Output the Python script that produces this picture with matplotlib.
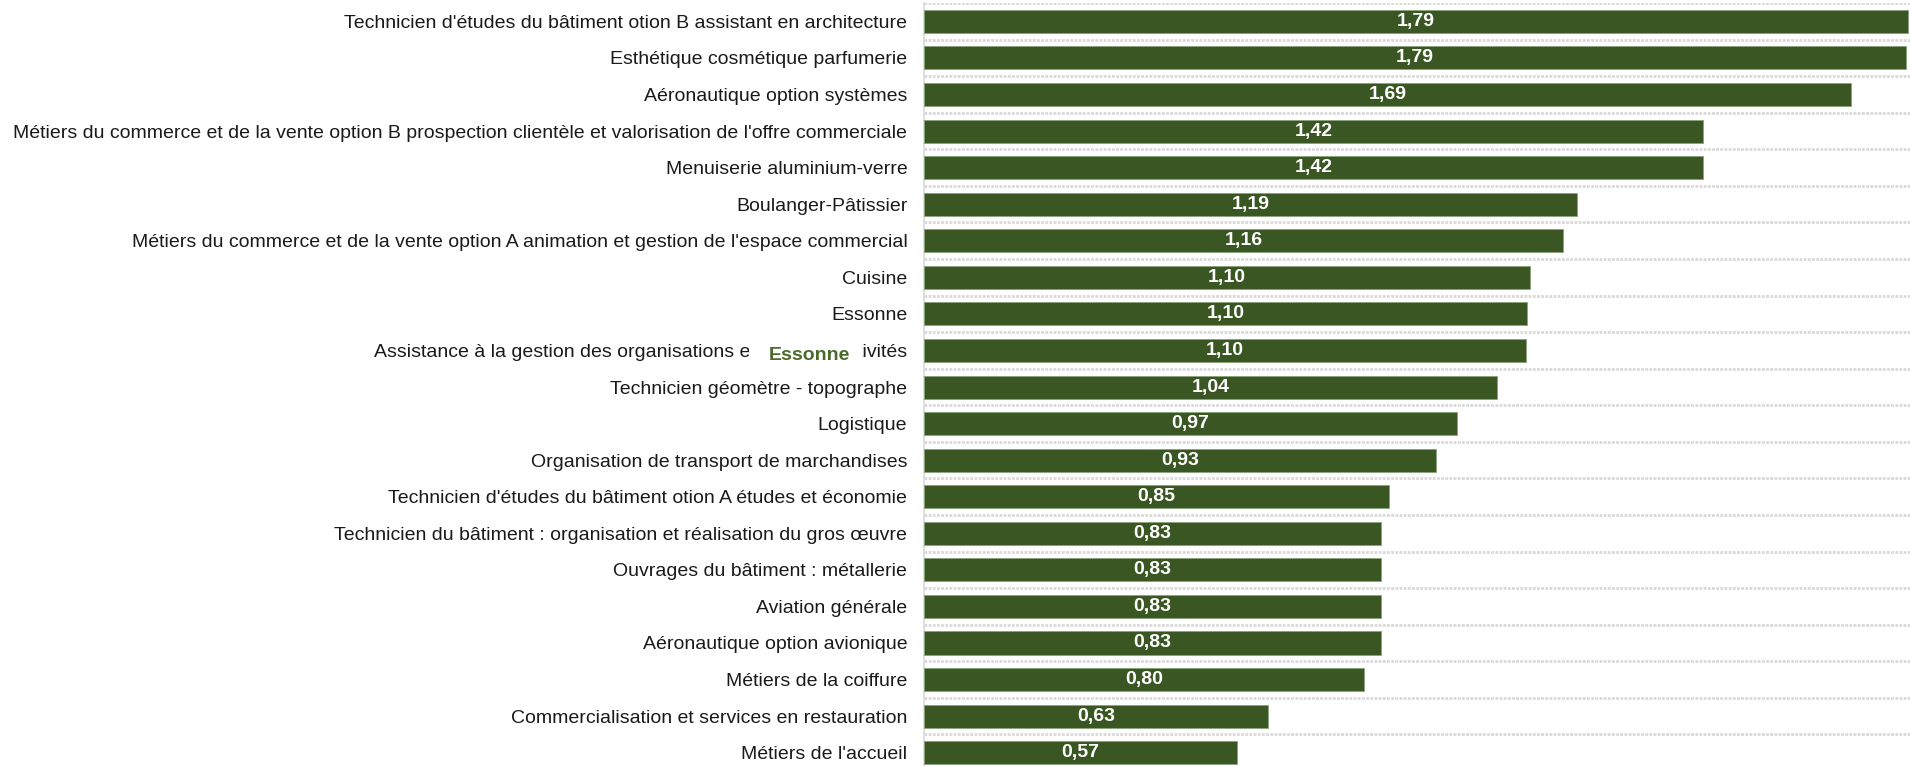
import matplotlib
matplotlib.use("Agg")
import matplotlib.pyplot as plt
from matplotlib.patches import Rectangle
import numpy as np

plt.rcParams['font.family'] = ['Liberation Sans', 'DejaVu Sans']

# data, top to bottom as in the chart
labels = [
    "Technicien d'études du bâtiment otion B assistant en architecture",
    "Esthétique cosmétique parfumerie",
    "Aéronautique option systèmes",
    "Métiers du commerce et de la vente option B prospection clientèle et valorisation de l'offre commerciale",
    "Menuiserie aluminium-verre",
    "Boulanger-Pâtissier",
    "Métiers du commerce et de la vente option A animation et gestion de l'espace commercial",
    "Cuisine",
    "Essonne",
    "Assistance à la gestion des organisations et de leurs activités",
    "Technicien géomètre - topographe",
    "Logistique",
    "Organisation de transport de marchandises",
    "Technicien d'études du bâtiment otion A études et économie",
    "Technicien du bâtiment : organisation et réalisation du gros œuvre",
    "Ouvrages du bâtiment : métallerie",
    "Aviation générale",
    "Aéronautique option avionique",
    "Métiers de la coiffure",
    "Commercialisation et services en restauration",
    "Métiers de l'accueil",
]
values = [1.794, 1.789, 1.69, 1.42, 1.42, 1.19, 1.164, 1.104, 1.099, 1.097,
          1.044, 0.971, 0.934, 0.847, 0.832, 0.832, 0.832, 0.832, 0.802, 0.627, 0.57]

bar_color = '#3a5623'
grid_color = '#d9d9d9'
W, H = 1910, 766

fig = plt.figure(figsize=(W / 100, H / 100), dpi=100)
ax = fig.add_axes([924 / W, -0.0065, 1 - 924 / W, 1.0025])

y = np.arange(len(labels))
ax.barh(y, values, height=0.63, color=bar_color, edgecolor='#8aa47a', linewidth=0.6, zorder=3)

for yi, v in zip(y, values):
    ax.text(v / 2, yi, f"{v:.2f}".replace('.', ','), ha='center', va='center',
            color='white', fontsize=14, fontweight='bold', zorder=4)

ax.set_ylim(len(labels) - 0.5, -0.5)
ax.set_xlim(0, 1.797)
ax.set_yticks(y)
ax.set_yticklabels(labels, fontsize=14, color='#1a1a1a')
ax.tick_params(axis='y', length=0, pad=12)
ax.set_xticks([])

# row separators
for b in np.arange(-0.5, len(labels), 1.0):
    ax.axhline(b, color=grid_color, linewidth=2, linestyle=(0, (1, 0.5)), zorder=1)

for s in ['top', 'right', 'bottom']:
    ax.spines[s].set_visible(False)
ax.spines['left'].set_color(grid_color)
ax.spines['left'].set_linewidth(1.2)

# stray title box sitting over one of the labels
fig.patches.append(Rectangle((749 / W, 1 - 371 / H), 113 / W, 30 / H,
                             transform=fig.transFigure, facecolor='white',
                             edgecolor='none', zorder=5))
fig.text(809 / W, 1 - 356 / H, "Essonne", ha='center', va='center',
         fontsize=14, fontweight='bold', color='#4a6b2a', zorder=6)

fig.savefig('out.png', dpi=100)
